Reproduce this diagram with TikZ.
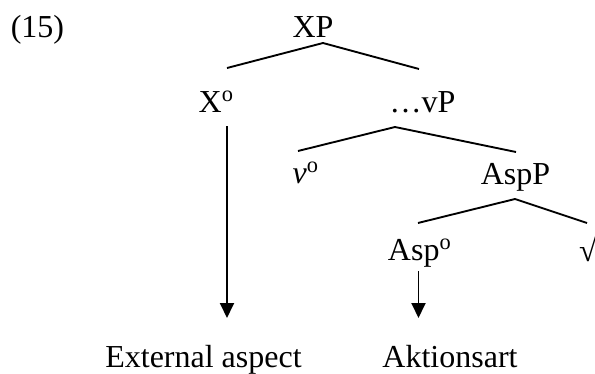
\documentclass[tikz,border=0pt]{standalone}
\usepackage{fontspec}
\setmainfont{Liberation Serif}
\usepackage{tikz}
\usetikzlibrary{arrows.meta}
\tikzset{
  nd_cat/.style={anchor=base,inner sep=0pt,font=\fontsize{12.8}{15}\selectfont},
  br/.style={line width=0.75pt},
  arr/.style={-{Triangle[length=6pt,width=5.6pt]},line width=0.75pt},
}
\newcommand{\hdo}{\textsuperscript{o}}
\begin{document}
\begin{tikzpicture}[x=0.4pt,y=-0.4pt]
\useasboundingbox (0,0) rectangle (595,374);
\node[nd_cat] at (37.5,37)(EX){(15)};
% heads and phrases
\node[nd_cat] at (313,37)(XP){XP};
\node[nd_cat] at (216.5,112)(Xo){X\hdo};
\node[nd_cat] at (422.5,112)(vP){\ldots vP};
\node[nd_cat] at (306,183)(vo){\textit{v}\hdo};
\node[nd_cat] at (515.5,184)(AspP){AspP};
\node[nd_cat] at (420,260)(Aspo){Asp\hdo};
\node[nd_cat] at (588,261)(Rt){√};
% interpretations
\node[nd_cat] at (203.5,367)(Ext){External aspect};
\node[nd_cat] at (450,367)(Akt){Aktionsart};
% branch points
\coordinate (XP-b) at (323,43);
\coordinate (Xo-t) at (227,68);
\coordinate (vP-t) at (419,69);
\coordinate (vP-b) at (395,127);
\coordinate (vo-t) at (298,151);
\coordinate (AspP-t) at (516,152);
\coordinate (AspP-b) at (515,199);
\coordinate (Aspo-t) at (418,223);
\coordinate (Rt-t) at (587,223);
\coordinate (Xo-b) at (227,126);
\coordinate (Aspo-b) at (418.5,271);
\coordinate (Ext-t) at (227,318);
\coordinate (Akt-t) at (418.5,318);
% branches
\draw[br](Xo-t)--(XP-b)--(vP-t);
\draw[br](vo-t)--(vP-b)--(AspP-t);
\draw[br](Aspo-t)--(AspP-b)--(Rt-t);
% arrows
\draw[arr](Xo-b)--(Ext-t);
\draw[arr](Aspo-b)--(Akt-t);
\end{tikzpicture}
\end{document}
